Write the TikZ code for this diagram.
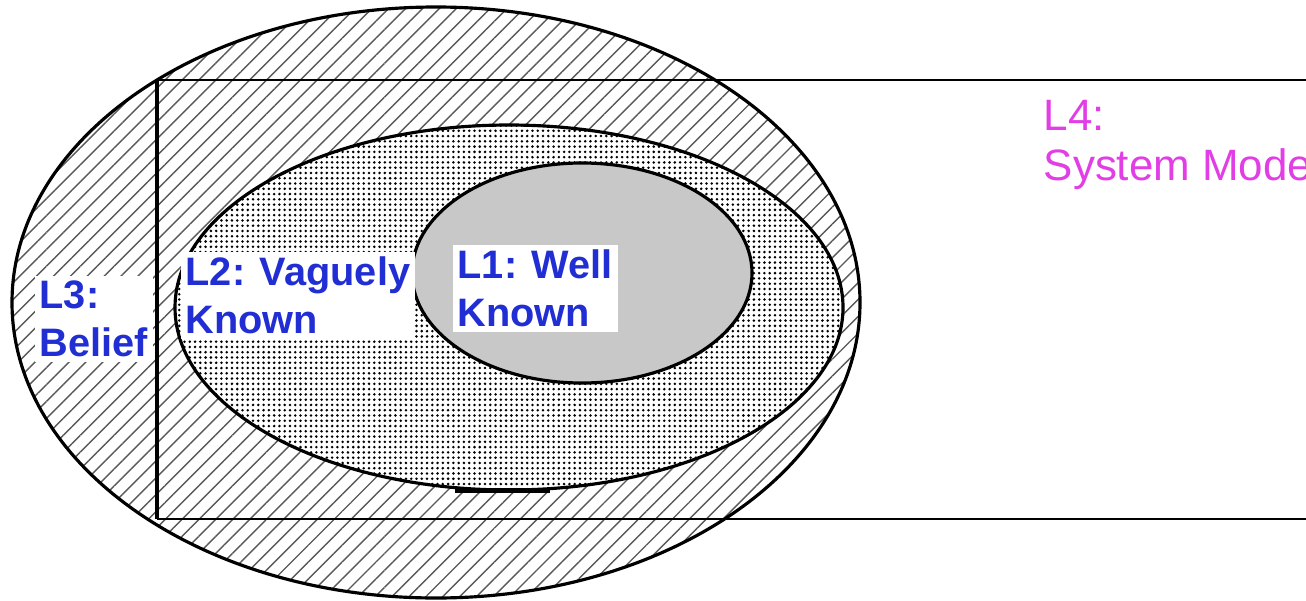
\documentclass[tikz,border=0pt]{standalone}
\usepackage{fontspec}
\usepackage{tikz}
\usetikzlibrary{calc,positioning,shapes.geometric,patterns,patterns.meta}
\newfontfamily\lblfont{Liberation Sans}
\definecolor{lvlblue}{RGB}{32,46,212}
\definecolor{lvlpink}{RGB}{226,62,230}
\definecolor{wellgray}{RGB}{200,200,200}

\begin{document}
\begin{tikzpicture}[
		level/.style={shape=ellipse,draw,line width=0.9pt,inner sep=0pt},
		lbl/.style={align=left,font=\lblfont\bfseries\fontsize{11.3}{13.8}\selectfont,text=lvlblue,fill=white,inner sep=0.05cm,anchor=north west}
	]
		\useasboundingbox (0,0) rectangle (13.06,6.00);
		% nested levels
		\node(belief) [level,minimum width=8.48cm,minimum height=5.91cm,
			preaction={fill=white},pattern={Lines[angle=45,distance=3.4pt,line width=0.4pt]},pattern color=black!65] at (4.36,2.975) {};
		\node(vague) [level,minimum width=6.68cm,minimum height=3.65cm,
			preaction={fill=white},pattern={Dots[radius=0.4pt,distance=1.5pt]},pattern color=black] at (5.09,2.925) {};
		\node(well) [level,minimum width=3.40cm,minimum height=2.20cm,fill=wellgray] at (5.82,3.27) {};
		\draw[line width=1.6pt] ($(vague.south)+(-0.54,0.01)$) -- ($(vague.south)+(0.41,0.01)$);
		% system model box (open to the right)
		\coordinate (tl) at (1.57,5.20);
		\coordinate (bl) at (1.57,0.81);
		\coordinate (tr) at (13.06,5.20);
		\coordinate (br) at (13.06,0.81);
		\draw[line width=0.8pt] (tr) -- (tl);
		\draw[line width=0.8pt] (bl) -- (br);
		\draw[line width=1.2pt] (tl) -- (bl);
		% labels
		\node(L3) [lbl] at (0.34,3.25) {L3:\\Belief};
		\node(L2) [lbl,inner xsep=0.05cm] at (1.80,3.49) {L2: Vaguely\\Known\hspace*{0.9cm}};
		\node(L1) [lbl] at (4.52,3.56) {L1: Well\\Known};
		\node(L4) [lbl,fill=none,text=lvlpink,font=\lblfont\fontsize{12.5}{14}\selectfont] at (10.38,5.05) {L4:\\System Model};
	\end{tikzpicture}
\end{document}
